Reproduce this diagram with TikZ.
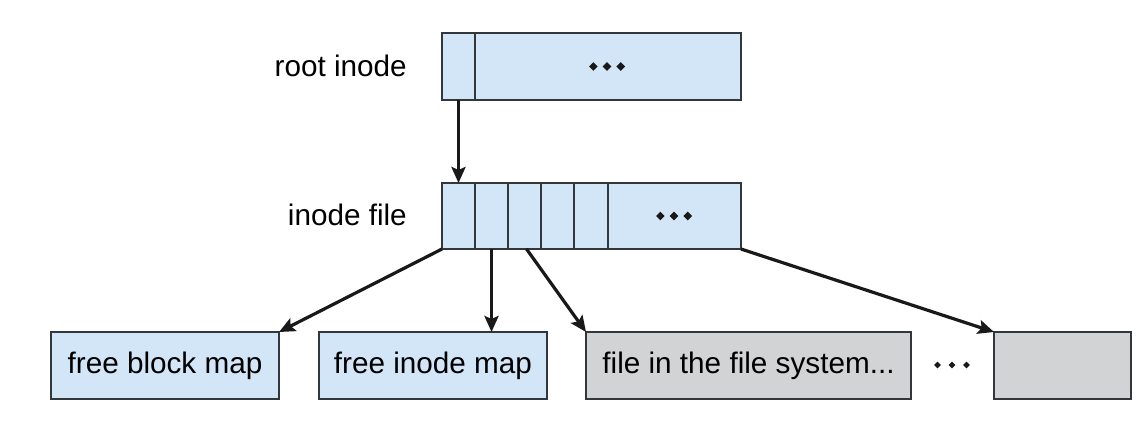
\documentclass[tikz,border=0pt]{standalone}
\usepackage{fontspec}
\setmainfont{Liberation Sans}
\usetikzlibrary{arrows.meta}
\definecolor{lblue}{RGB}{210,230,248}
\definecolor{lgray}{RGB}{209,211,213}
\definecolor{edge}{RGB}{50,55,60}
\begin{document}
\begin{tikzpicture}[x=1pt,y=-1pt,
  cell/.style={draw=edge,line width=1.4pt,fill=lblue,minimum height=66pt,inner sep=0pt,outer sep=0pt},
  graybox/.style={draw=edge,line width=1.4pt,fill=lgray,minimum height=67pt,inner sep=0pt,outer sep=0pt},
  bluebox/.style={draw=edge,line width=1.4pt,fill=lblue,minimum height=67pt,inner sep=0pt,outer sep=0pt},
  lab/.style={font=\fontsize{29.7}{36}\selectfont,inner sep=0pt},
  ptr/.style={draw=black!90,line width=3.2pt,-{Stealth[length=16pt,width=14pt,inset=3pt]}}]
\useasboundingbox[fill=white] (0,0) rectangle (1146,440);
% root inode
\node[cell,minimum width=33pt,minimum height=67pt] (rc1) at (458.5,66.5) {};
\node[cell,minimum width=266pt,minimum height=67pt] (rc2) at (608,66.5) {};
\foreach \i in {-1,0,1} \fill[black!90] (607+13.7*\i,66.5) +(-4.3,0) -- +(0,-4.3) -- +(4.3,0) -- +(0,4.3) -- cycle;
\node[lab,anchor=base east] (lroot) at (407,76) {root inode};
% inode file
\node[cell,minimum width=33pt] (c1) at (458.5,216) {};
\node[cell,minimum width=33pt] (c2) at (491.5,216) {};
\node[cell,minimum width=33pt] (c3) at (524.5,216) {};
\node[cell,minimum width=33pt] (c4) at (557.5,216) {};
\node[cell,minimum width=34pt] (c5) at (591,216) {};
\node[cell,minimum width=133pt] (c6) at (674.5,216) {};
\foreach \i in {-1,0,1} \fill[black!90] (674+13.7*\i,216) +(-4.3,0) -- +(0,-4.3) -- +(4.3,0) -- +(0,4.3) -- cycle;
\node[lab,anchor=base east] (lfile) at (407,225) {inode file};
% bottom boxes
\node[bluebox,minimum width=228pt,lab] (fbm) at (165,365.5) {free block map};
\node[bluebox,minimum width=228pt,lab] (fim) at (433,365.5) {free inode map};
\node[graybox,minimum width=325pt,lab] (fs) at (748.5,365.5) {file in the file system...};
\node[graybox,minimum width=137pt] (last) at (1062.5,365.5) {};
\foreach \i in {-1,0,1} \fill[black!90] (952+14.5*\i,365) +(-3.4,0) -- +(0,-3.4) -- +(3.4,0) -- +(0,3.4) -- cycle;
% pointers
\draw[ptr] (rc1.south) -- (c1.north);
\draw[ptr] (c1.south west) -- (fbm.north east);
\draw[ptr] (c2.south) -- (c2.south |- fim.north);
\draw[ptr] ([xshift=2pt]c3.south) -- (fs.north west);
\draw[ptr] (c6.south east) -- (last.north west);
\end{tikzpicture}
\end{document}
